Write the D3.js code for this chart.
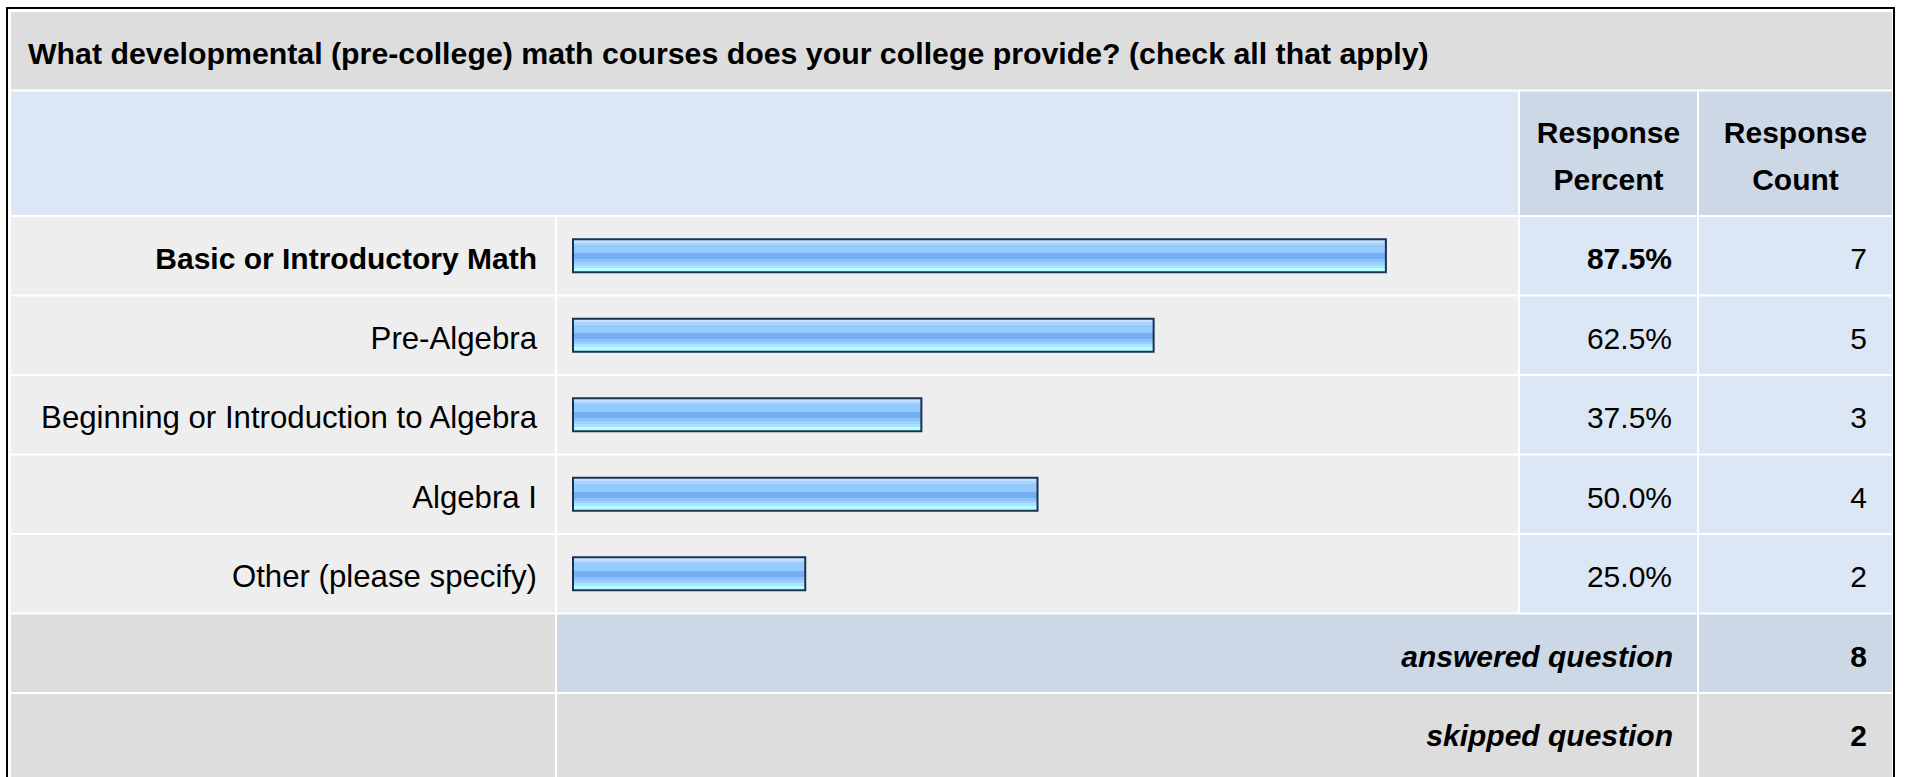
<!DOCTYPE html>
<html>
<head>
<meta charset="utf-8">
<script src="https://cdn.jsdelivr.net/npm/d3@7"></script>
<style>
  html, body { margin: 0; padding: 0; background: #ffffff; }
  svg { display: block; }
  text { font-family: "Liberation Sans", Arial, Helvetica, sans-serif; }
</style>
</head>
<body>
<svg id="chart" width="1907" height="777"></svg>
<script>
// ---- data ----
const title = "What developmental (pre-college) math courses does your college provide? (check all that apply)";
const categories = [
  "Basic or Introductory Math",
  "Pre-Algebra",
  "Beginning or Introduction to Algebra",
  "Algebra I",
  "Other (please specify)"
];
const percents = [87.5, 62.5, 37.5, 50.0, 25.0];
const counts = [7, 5, 3, 4, 2];
const headerPercent = ["Response", "Percent"];
const headerCount = ["Response", "Count"];
const summaryLabels = ["answered question", "skipped question"];
const summaryValues = [8, 2];

// ---- layout ----
const svg = d3.select("#chart");

const col = {
  labelX: 11, labelW: 544,
  barX: 557, barW: 961,
  pctX: 1520, pctW: 177,
  cntX: 1699, cntW: 193
};
const rowTop0 = 217, rowPitch = 79.5, rowH = 77.5;
const maxVal = d3.max(percents);
const topIndex = percents.indexOf(maxVal);

const C = {
  gray: "#dddddd",
  light: "#eeeeee",
  blue: "#dce7f5",
  blueDark: "#ccd8e6",
  border: "#000000",
  barStroke: "#1b3253"
};

// outer frame
svg.append("rect")
  .attr("x", 7).attr("y", 8).attr("width", 1887).attr("height", 820)
  .attr("fill", "#ffffff").attr("stroke", C.border).attr("stroke-width", 2);

// gradient for bars
const defs = svg.append("defs");
const grad = defs.append("linearGradient").attr("id", "barGrad")
  .attr("x1", 0).attr("y1", 0).attr("x2", 0).attr("y2", 1);
const bands = [
  [0.00, 0.10, "#c5e2ff"],
  [0.10, 0.18, "#a8d3ff"],
  [0.18, 0.42, "#95caff"],
  [0.42, 0.60, "#74adf2"],
  [0.60, 0.70, "#8cc3fb"],
  [0.70, 0.78, "#9dd0ff"],
  [0.78, 0.86, "#a9e4ff"],
  [0.86, 1.00, "#b4ffff"]
];
bands.forEach(b => {
  grad.append("stop").attr("offset", b[0]).attr("stop-color", b[2]);
  grad.append("stop").attr("offset", b[1]).attr("stop-color", b[2]);
});

// cells
const rowY = i => rowTop0 + i * rowPitch;
const cells = [];
cells.push({x: col.labelX, y: 12, w: col.cntX + col.cntW - col.labelX, h: 77.5, fill: C.gray});
cells.push({x: col.labelX, y: 91.5, w: col.barX + col.barW - col.labelX, h: 123.5, fill: C.blue});
cells.push({x: col.pctX, y: 91.5, w: col.pctW, h: 123.5, fill: C.blueDark});
cells.push({x: col.cntX, y: 91.5, w: col.cntW, h: 123.5, fill: C.blueDark});
categories.forEach((c, i) => {
  cells.push({x: col.labelX, y: rowY(i), w: col.labelW, h: rowH, fill: C.light});
  cells.push({x: col.barX, y: rowY(i), w: col.barW, h: rowH, fill: C.light});
  cells.push({x: col.pctX, y: rowY(i), w: col.pctW, h: rowH, fill: C.blue});
  cells.push({x: col.cntX, y: rowY(i), w: col.cntW, h: rowH, fill: C.blue});
});
summaryLabels.forEach((s, j) => {
  const i = categories.length + j;
  const h = j === summaryLabels.length - 1 ? 120 : rowH;
  const f = j === 0 ? C.blueDark : C.gray;
  cells.push({x: col.labelX, y: rowY(i), w: col.labelW, h: h, fill: C.gray});
  cells.push({x: col.barX, y: rowY(i), w: col.pctX + col.pctW - col.barX, h: h, fill: f});
  cells.push({x: col.cntX, y: rowY(i), w: col.cntW, h: h, fill: f});
});

svg.append("g").selectAll("rect").data(cells).join("rect")
  .attr("x", d => d.x).attr("y", d => d.y)
  .attr("width", d => d.w).attr("height", d => d.h)
  .attr("fill", d => d.fill);

// title
svg.append("text")
  .attr("x", 28).attr("y", 64)
  .attr("font-size", 30.3).attr("font-weight", "bold").attr("fill", "#000")
  .text(title);

// header texts
[[headerPercent, col.pctX + col.pctW / 2], [headerCount, col.cntX + col.cntW / 2]].forEach(([lines, cx]) => {
  svg.append("g").selectAll("text").data(lines).join("text")
    .attr("x", cx).attr("y", (d, k) => 143 + k * 47)
    .attr("text-anchor", "middle")
    .attr("font-size", 30).attr("font-weight", "bold").attr("fill", "#000")
    .text(d => d);
});

// scales
const y = d3.scaleBand().domain(categories)
  .range([rowTop0, rowTop0 + categories.length * rowPitch]).paddingInner(0).paddingOuter(0);
const barLeft = 573;
const x = d3.scaleLinear().domain([0, 100]).range([barLeft, barLeft + 929]);
const barH = 33;

const rows = svg.append("g").selectAll("g").data(categories).join("g");

// labels
rows.append("text")
  .attr("x", 537)
  .attr("y", d => y(d) + 52)
  .attr("text-anchor", "end")
  .attr("font-size", (d, i) => i === topIndex ? 30 : 31.2)
  .attr("font-weight", (d, i) => i === topIndex ? "bold" : "normal")
  .attr("fill", "#000")
  .text(d => d);

// bars
rows.append("rect")
  .attr("x", x(0))
  .attr("y", d => y(d) + (rowH - barH) / 2)
  .attr("width", (d, i) => x(percents[i]) - x(0))
  .attr("height", barH)
  .attr("fill", "url(#barGrad)")
  .attr("stroke", C.barStroke)
  .attr("stroke-width", 2);

// percent values
rows.append("text")
  .attr("x", 1672)
  .attr("y", d => y(d) + 52)
  .attr("text-anchor", "end")
  .attr("font-size", 30)
  .attr("font-weight", (d, i) => i === topIndex ? "bold" : "normal")
  .attr("fill", "#000")
  .text((d, i) => percents[i].toFixed(1) + "%");

// counts
rows.append("text")
  .attr("x", 1867)
  .attr("y", d => y(d) + 52)
  .attr("text-anchor", "end")
  .attr("font-size", 30)
  .attr("fill", "#000")
  .text((d, i) => counts[i]);

// summary rows
const sum = svg.append("g").selectAll("g").data(summaryLabels).join("g");
sum.append("text")
  .attr("x", 1673)
  .attr("y", (d, j) => rowY(categories.length + j) + 52)
  .attr("text-anchor", "end")
  .attr("font-size", 30).attr("font-weight", "bold").attr("font-style", "italic")
  .attr("fill", "#000")
  .text(d => d);
sum.append("text")
  .attr("x", 1867)
  .attr("y", (d, j) => rowY(categories.length + j) + 52)
  .attr("text-anchor", "end")
  .attr("font-size", 30).attr("font-weight", "bold")
  .attr("fill", "#000")
  .text((d, j) => summaryValues[j]);
</script>
</body>
</html>
